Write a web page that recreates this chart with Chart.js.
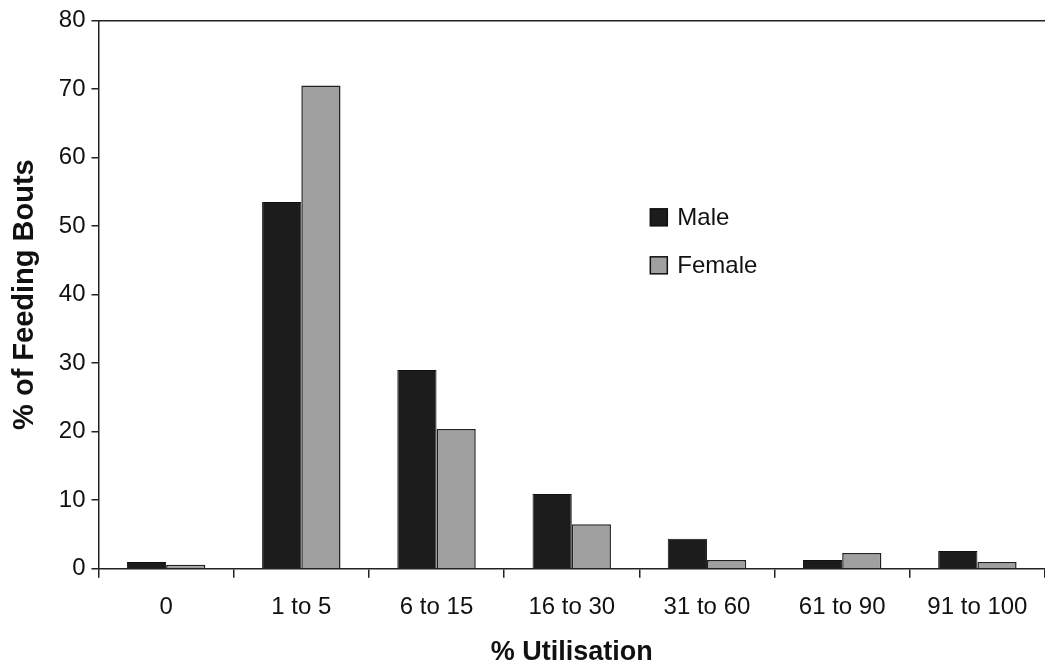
<!DOCTYPE html>
<html>
<head>
<meta charset="utf-8">
<script src="https://cdn.jsdelivr.net/npm/chart.js@4/dist/chart.umd.min.js"></script>
<style>
  html, body { margin: 0; padding: 0; background: #fff; }
  #wrap { width: 1045px; height: 669px; position: relative; }
</style>
</head>
<body>
<div id="wrap"><canvas id="myChart"></canvas></div>
<script>
const categories = ['0', '1 to 5', '6 to 15', '16 to 30', '31 to 60', '61 to 90', '91 to 100'];
const maleValues = [1.0, 53.5, 29.0, 10.9, 4.4, 1.3, 2.6];
const femaleValues = [0.6, 70.5, 20.4, 6.5, 1.3, 2.3, 1.0];
const yTicks = [0, 10, 20, 30, 40, 50, 60, 70, 80];

const font = "'Liberation Sans', Arial, sans-serif";

// legend sits inside the plot, like the original
const insideLegend = {
    id: 'insideLegend',
    afterDraw(chart) {
        const ctx = chart.ctx;
        const area = chart.chartArea;
        const x = area.left + (area.right - area.left) * 0.583;
        let y = area.top + (area.bottom - area.top) * 0.36;
        ctx.save();
        ctx.font = '24px ' + font;
        ctx.textBaseline = 'middle';
        chart.data.datasets.forEach(ds => {
            ctx.fillStyle = ds.backgroundColor;
            ctx.fillRect(x, y - 9, 17, 17);
            ctx.strokeStyle = '#111';
            ctx.lineWidth = 1.5;
            ctx.strokeRect(x, y - 9, 17, 17);
            ctx.fillStyle = '#111';
            ctx.fillText(ds.label, x + 27, y + 1);
            y += 48;
        });
        ctx.restore();
    }
};

window.addEventListener('load', () => {
    const ctx = document.getElementById('myChart').getContext('2d');
    new Chart(ctx, {
        type: 'bar',
        data: {
            labels: categories,
            datasets: [
                { label: 'Male', data: maleValues, backgroundColor: '#1c1c1c', borderColor: '#111', borderWidth: 1 },
                { label: 'Female', data: femaleValues, backgroundColor: '#a0a0a0', borderColor: '#222', borderWidth: 1.5 }
            ]
        },
        options: {
            responsive: true,
            maintainAspectRatio: false,
            animation: false,
            categoryPercentage: 0.58,
            barPercentage: 1.0,
            layout: { padding: { top: 8, right: 0, left: 4, bottom: 0 } },
            plugins: {
                legend: { display: false },
                tooltip: { enabled: false }
            },
            scales: {
                x: {
                    grid: { offset: true, drawOnChartArea: false, tickLength: 9, color: '#222', lineWidth: 1.5 },
                    border: { color: '#222', width: 1.5 },
                    ticks: { color: '#111', font: { family: font, size: 24 }, padding: 15 },
                    title: { display: true, text: '% Utilisation', color: '#111', font: { family: font, size: 27, weight: 'bold' }, padding: { top: 0, bottom: 0 } }
                },
                xTop: {
                    position: 'top',
                    grid: { display: false },
                    border: { color: '#222', width: 1.5 },
                    ticks: { display: false }
                },
                y: {
                    min: 0,
                    max: 80,
                    afterBuildTicks: axis => { axis.ticks = yTicks.map(v => ({ value: v })); },
                    grid: { drawOnChartArea: false, tickLength: 7, color: '#222', lineWidth: 1.5 },
                    border: { color: '#222', width: 1.5 },
                    ticks: { color: '#111', font: { family: font, size: 24 }, padding: 6 },
                    title: { display: true, text: '% of Feeding Bouts', color: '#111', font: { family: font, size: 29, weight: 'bold' }, padding: { bottom: 10 } }
                }
            }
        },
        plugins: [insideLegend]
    });
});
</script>
</body>
</html>
